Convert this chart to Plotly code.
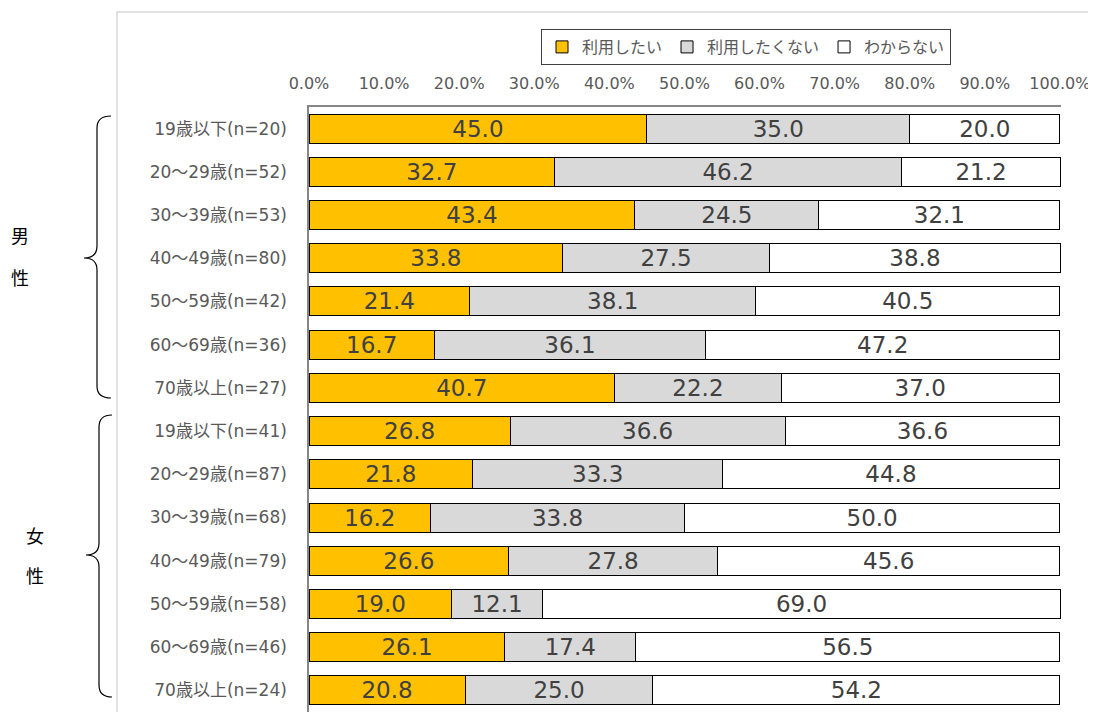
import plotly.graph_objects as go

categories = [
    "19歳以下(n=20)", "20～29歳(n=52)", "30～39歳(n=53)", "40～49歳(n=80)",
    "50～59歳(n=42)", "60～69歳(n=36)", "70歳以上(n=27)",
    "19歳以下(n=41)", "20～29歳(n=87)", "30～39歳(n=68)", "40～49歳(n=79)",
    "50～59歳(n=58)", "60～69歳(n=46)", "70歳以上(n=24)",
]
want = [45.0, 32.7, 43.4, 33.8, 21.4, 16.7, 40.7, 26.8, 21.8, 16.2, 26.6, 19.0, 26.1, 20.8]
not_want = [35.0, 46.2, 24.5, 27.5, 38.1, 36.1, 22.2, 36.6, 33.3, 33.8, 27.8, 12.1, 17.4, 25.0]
unknown = [20.0, 21.2, 32.1, 38.8, 40.5, 47.2, 37.0, 36.6, 44.8, 50.0, 45.6, 69.0, 56.5, 54.2]
series_names = ["利用したい", "利用したくない", "わからない"]
tick_vals = [0, 10, 20, 30, 40, 50, 60, 70, 80, 90, 100]
tick_text = ["0.0%", "10.0%", "20.0%", "30.0%", "40.0%", "50.0%", "60.0%", "70.0%", "80.0%", "90.0%", "100.0%"]
group_labels = [("男", "性"), ("女", "性")]

OFF = 8  # page body margin
W, H = 1088, 704
L = 309 - OFF
T = 107 - OFF
R = W - (1061 - OFF)
B = 0
PH = H - T - B
PW = W - L - R

def px(x):
    return (x - OFF - L) / PW

def py(y):
    return (T + PH - (y - OFF)) / PH

FONT = "DejaVu Sans, Noto Sans CJK JP, sans-serif"
colors = ["#FFC000", "#D9D9D9", "#FFFFFF"]

fig = go.Figure()
for name, vals, col in zip(series_names, [want, not_want, unknown], colors):
    fig.add_trace(go.Bar(
        name=name, y=categories, x=vals, orientation="h",
        marker=dict(color=col, line=dict(color="#000000", width=1)),
        text=[f"{v:.1f}" for v in vals], textposition="inside",
        insidetextanchor="middle", constraintext="none",
        textfont=dict(size=23, color="#404040", family=FONT),
        hoverinfo="skip",
    ))

def brace(x_end, x_line, x_tip, y_top, y_mid, y_bot):
    r = 12
    pts = (
        f"M {px(x_end)},{py(y_top)} "
        f"Q {px(x_line)},{py(y_top)} {px(x_line)},{py(y_top + r)} "
        f"L {px(x_line)},{py(y_mid - r)} "
        f"Q {px(x_line)},{py(y_mid)} {px(x_tip)},{py(y_mid)} "
        f"Q {px(x_line)},{py(y_mid)} {px(x_line)},{py(y_mid + r)} "
        f"L {px(x_line)},{py(y_bot - r)} "
        f"Q {px(x_line)},{py(y_bot)} {px(x_end)},{py(y_bot)}"
    )
    return dict(type="path", xref="paper", yref="paper", path=pts,
                line=dict(color="#000000", width=1.2))

shapes = [
    dict(type="rect", xref="paper", yref="paper",
         x0=px(117), y0=py(760), x1=px(1120), y1=py(12),
         line=dict(color="#D9D9D9", width=1.5), fillcolor="rgba(0,0,0,0)", layer="below"),
    brace(111, 97, 84, 116, 258, 398),
    brace(112, 99, 86, 415, 555, 697),
]

annotations = []
for (a, b), xpos, (ya, yb) in zip(group_labels, [20, 35], [(236, 278), (536, 576)]):
    for txt, yy in ((a, ya), (b, yb)):
        annotations.append(dict(x=px(xpos), y=py(yy), xref="paper", yref="paper", text=txt,
                                xanchor="center", yanchor="middle", showarrow=False,
                                font=dict(size=18, color="#000000", family=FONT)))

fig.update_layout(
    width=W, height=H, barmode="stack", bargap=0.33,
    margin=dict(l=L, r=R, t=T, b=B),
    paper_bgcolor="white", plot_bgcolor="white",
    font=dict(family=FONT, color="#595959"),
    shapes=shapes, annotations=annotations,
    legend=dict(orientation="h", x=px(746), y=py(29), xanchor="center", yanchor="top",
                bordercolor="#404040", borderwidth=1, bgcolor="white",
                font=dict(size=16, color="#595959", family=FONT),
                traceorder="normal", itemwidth=30),
    xaxis=dict(side="top", range=[0, 100.15], tickvals=tick_vals, ticktext=tick_text,
               showgrid=False, zeroline=False, showline=True, linecolor="#868686", linewidth=1.5,
               ticks="outside", ticklen=10, tickcolor="rgba(0,0,0,0)", ticklabeloverflow="allow",
               tickfont=dict(size=16, color="#595959", family=FONT), fixedrange=True),
    yaxis=dict(range=[13.5, -0.5], showgrid=False, zeroline=False, showline=True,
               linecolor="#868686", linewidth=1.5,
               ticks="outside", ticklen=17, tickcolor="rgba(0,0,0,0)",
               tickfont=dict(size=17, color="#595959", family=FONT), fixedrange=True),
)

fig.write_html("out.html", default_width=f"{W}px", default_height=f"{H}px")
